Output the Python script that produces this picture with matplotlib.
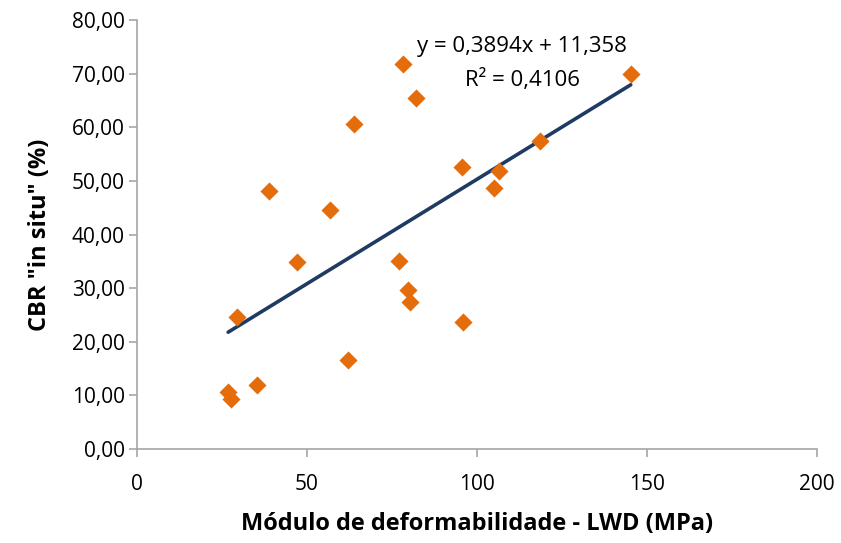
import numpy as np
import matplotlib
matplotlib.use('Agg')
import matplotlib.pyplot as plt
from matplotlib.ticker import FuncFormatter

# LWD modulus (MPa) vs in-situ CBR (%)
lwd = [145.3, 78.2, 82.1, 63.7, 118.5, 95.6, 106.6, 105.1, 38.8, 56.7,
       47.1, 77.1, 79.7, 80.3, 29.5, 95.8, 62.0, 35.2, 26.8, 27.6]
cbr = [69.9, 71.9, 65.5, 60.7, 57.5, 52.6, 51.8, 48.6, 48.2, 44.6,
       34.9, 35.0, 29.7, 27.4, 24.6, 23.7, 16.6, 12.0, 10.7, 9.4]

# linear trendline as reported on the chart
slope = 0.3894
intercept = 11.358
r2 = 0.4106

plt.rcParams['font.family'] = ['Open Sans', 'DejaVu Sans']

fig = plt.figure(figsize=(8.41, 5.43), dpi=100)
ax = fig.add_axes([0.163, 0.173, 0.808, 0.79])

ax.scatter(lwd, cbr, marker='D', s=85, color='#E46C0A', zorder=3, linewidths=0)

x_fit = np.array([min(lwd), max(lwd)])
ax.plot(x_fit, slope * x_fit + intercept, color='#1F3B63', linewidth=2.6,
        solid_capstyle='round', zorder=2)

eq = 'y = ' + f'{slope:.4f}'.replace('.', ',') + 'x + ' + f'{intercept:.3f}'.replace('.', ',')
r2_txt = 'R² = ' + f'{r2:.4f}'.replace('.', ',')
ax.text(113.3, 75.0, eq, ha='center', va='center', fontsize=16, color='black')
ax.text(113.3, 68.9, r2_txt, ha='center', va='center', fontsize=16, color='black')

ax.set_xlim(0, 200)
ax.set_ylim(0, 80)
ax.set_xticks(np.arange(0, 201, 50))
ax.set_yticks(np.arange(0, 81, 10))
ax.yaxis.set_major_formatter(FuncFormatter(lambda v, p: f'{v:.2f}'.replace('.', ',')))

for side in ['top', 'right']:
    ax.spines[side].set_visible(False)
for side in ['left', 'bottom']:
    ax.spines[side].set_color('#A6A6A6')
    ax.spines[side].set_linewidth(1.2)
ax.tick_params(direction='out', length=6, width=1.2, color='#A6A6A6',
               labelsize=15, labelcolor='black')
ax.tick_params(axis='y', pad=3)
ax.tick_params(axis='x', pad=12)

ax.set_xlabel('Módulo de deformabilidade - LWD (MPa)', fontsize=17, fontweight='bold', labelpad=12)
ax.set_ylabel('CBR "in situ" (%)', fontsize=17, fontweight='bold', labelpad=14)

fig.savefig('out.png', dpi=100)
